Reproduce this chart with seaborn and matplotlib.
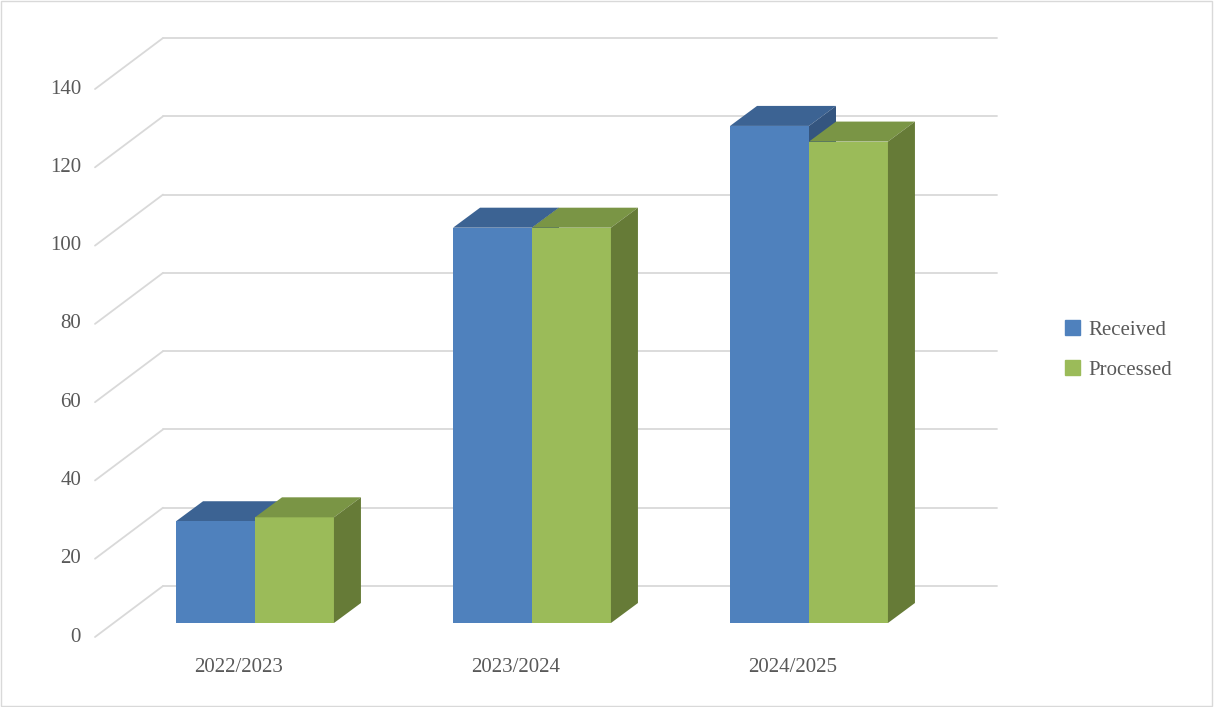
import pandas as pd
import matplotlib.pyplot as plt
import seaborn as sns
from matplotlib.patches import Polygon, Patch, Rectangle

# data
years = ["2022/2023", "2023/2024", "2024/2025"]
received = [26, 101, 127]
processed = [27, 101, 123]
series = ["Received", "Processed"]
y_ticks = [0, 20, 40, 60, 80, 100, 120, 140]

FRONT = {"Received": "#4F81BD", "Processed": "#9BBB59"}
TOP = {"Received": "#3C6393", "Processed": "#7A9545"}
SIDE = {"Received": "#34557F", "Processed": "#667B37"}

df = pd.DataFrame({
    "year": years * 2,
    "series": [series[0]] * 3 + [series[1]] * 3,
    "value": received + processed,
})

sns.set_theme(style="white")
plt.rcParams['font.family'] = ['Liberation Serif', 'DejaVu Serif']

fig = plt.figure(figsize=(12.14, 7.07), dpi=100)
ax = fig.add_axes([0, 0, 1, 1])

# pixel -> data helpers (x: 277 px per category, y: 3.914 px per unit)
PX = 277.0
PY = 3.914
ax.set_xlim((0 - 255) / PX, (1214 - 255) / PX)
ax.set_ylim((623 - 707) / PY, 623 / PY)
ax.axis("off")

DX, DY = 27 / PX, 20 / PY          # bar depth
WX, WY = 68 / PX, 51 / PY          # wall depth from label plane
LX, LY = (95 - 255) / PX, -14 / PY  # front-left corner of floor
RX = (997 - 255) / PX

# back wall / side wall gridlines
for t in y_ticks:
    ax.plot([LX + WX, RX], [t + LY + WY, t + LY + WY], color="#D9D9D9", lw=1.3, zorder=0)
    ax.plot([LX, LX + WX], [t + LY, t + LY + WY], color="#D9D9D9", lw=1.3, zorder=0)
    ax.annotate(str(t), (LX, t + LY), xytext=(-10, 0), textcoords="offset points",
                ha="right", va="center", fontsize=15, color="#595959")

sns.barplot(data=df, x="year", y="value", hue="series", order=years,
            hue_order=series, palette=FRONT, width=0.57, gap=0,
            saturation=1, legend=False, ax=ax, zorder=2, edgecolor="none")
ax.set_xlim((0 - 255) / PX, (1214 - 255) / PX)
ax.set_ylim((623 - 707) / PY, 623 / PY)

for i, name in enumerate(series):
    z = 1 if name == "Received" else 3
    for p in ax.containers[i]:
        x0, w, h = p.get_x(), p.get_width(), p.get_height()
        x1 = x0 + w
        ax.add_patch(Polygon([(x0, h), (x1, h), (x1 + DX, h + DY), (x0 + DX, h + DY)],
                             closed=True, color=TOP[name], zorder=z, lw=0))
        ax.add_patch(Polygon([(x1, 0), (x1 + DX, DY), (x1 + DX, h + DY), (x1, h)],
                             closed=True, color=SIDE[name], zorder=z, lw=0))

for i, yr in enumerate(years):
    ax.text(i - 0.06, (623 - 668) / PY, yr, ha="center", va="center",
            fontsize=15, color="#595959")

handles = [Patch(color=FRONT[s], label=s) for s in series]
fig.legend(handles=handles, loc="center left", bbox_to_anchor=(0.862, 0.505),
           frameon=False, fontsize=15, labelcolor="#595959",
           handlelength=0.7, handleheight=0.7, labelspacing=1.0, handletextpad=0.4)

fig.patches.append(Rectangle((0.001, 0.001), 0.997, 0.997, transform=fig.transFigure,
                             fill=False, edgecolor="#D9D9D9", lw=1))

fig.savefig("out.png", dpi=100)
